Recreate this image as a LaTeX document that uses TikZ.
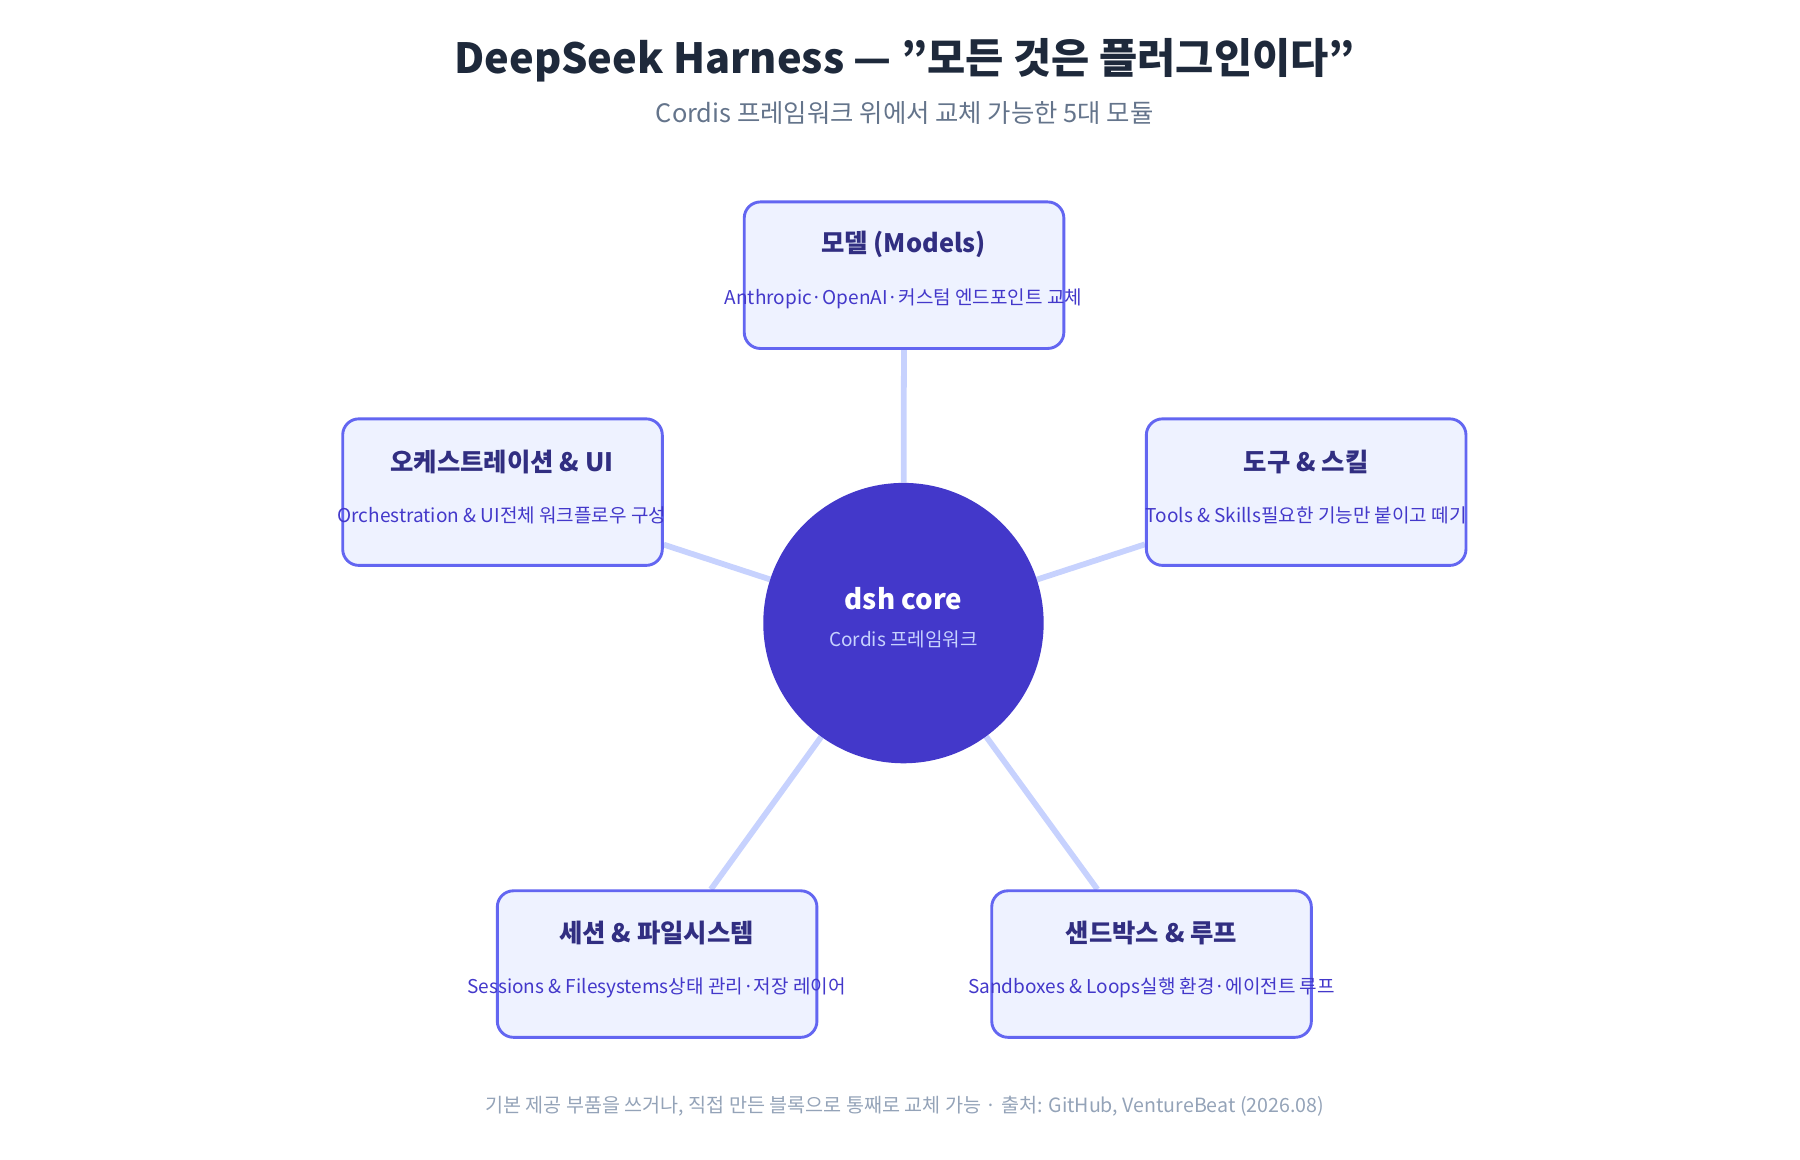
\documentclass[tikz,border=0pt]{standalone}
\usepackage{fontspec}
\setmainfont{Noto Sans CJK KR}
\usetikzlibrary{backgrounds}
\definecolor{core}{HTML}{4338CA}
\definecolor{boxfill}{HTML}{EEF2FF}
\definecolor{boxline}{HTML}{6366F1}
\definecolor{link}{HTML}{C7D2FE}
\definecolor{ttl}{HTML}{312E81}
\definecolor{dark}{HTML}{1E293B}
\definecolor{sub}{HTML}{64748B}
\definecolor{foot}{HTML}{94A3B8}
\begin{document}
\begin{tikzpicture}[x=1pt,y=-1pt,
  box/.style={draw=boxline,line width=2.5pt,fill=boxfill,rounded corners=14pt,minimum width=277pt,minimum height=127pt,align=center,inner sep=0pt},
  link/.style={draw=link,line width=5pt},
  bt/.style={font=\fontsize{22}{26}\selectfont\bfseries,text=ttl},
  bb/.style={font=\fontsize{16.5}{28}\selectfont,text=core}]
\useasboundingbox (0,0) rectangle (1560,1005);
\node[circle,fill=core,minimum size=243pt,inner sep=0pt] (c) at (783,540) {};
\node[box] (m) at (783.5,238.5) {};
\node[box] (o) at (435.5,426.5) {};
\node[box] (t) at (1132,426.5) {};
\node[box] (s) at (569.5,835.5) {};
\node[box] (x) at (998,835.5) {};
\begin{pgfonlayer}{background}
\draw[link] (c) -- (m);
\draw[link] (c) -- (o);
\draw[link] (c) -- (t);
\draw[link] (c) -- (s);
\draw[link] (c) -- (x);
\end{pgfonlayer}
\node[bt] (mt) at (783,212) {모델 (Models)};
\node[bb] (mb) at (783,259) {Anthropic·OpenAI·\\커스텀 엔드포인트 교체};
\node[bt] (ot) at (435,400) {오케스트레이션 \& UI};
\node[bb] (ob) at (435,447) {Orchestration \& UI\\전체 워크플로우 구성};
\node[bt] (tt) at (1132,400) {도구 \& 스킬};
\node[bb] (tb) at (1132,447) {Tools \& Skills\\필요한 기능만 붙이고 떼기};
\node[bt] (st) at (569,809) {세션 \& 파일시스템};
\node[bb] (sb) at (569,856) {Sessions \& Filesystems\\상태 관리·저장 레이어};
\node[bt] (xt) at (998,809) {샌드박스 \& 루프};
\node[bb] (xb) at (998,856) {Sandboxes \& Loops\\실행 환경·에이전트 루프};
\node[font=\fontsize{24}{28}\selectfont\bfseries,text=white] (ct) at (783,519) {dsh core};
\node[font=\fontsize{16.5}{20}\selectfont,text=link] (cs) at (783,554) {Cordis 프레임워크};
\node[font=\fontsize{36}{40}\selectfont\bfseries,text=dark] (title) at (784,52) {DeepSeek Harness — "모든 것은 플러그인이다"};
\node[font=\fontsize{22}{26}\selectfont,text=sub] (subt) at (784,98) {Cordis 프레임워크 위에서 교체 가능한 5대 모듈};
\node[font=\fontsize{17}{20}\selectfont,text=foot] (ft) at (784,959) {기본 제공 부품을 쓰거나, 직접 만든 블록으로 통째로 교체 가능 · 출처: GitHub, VentureBeat (2026.08)};
\end{tikzpicture}
\end{document}
